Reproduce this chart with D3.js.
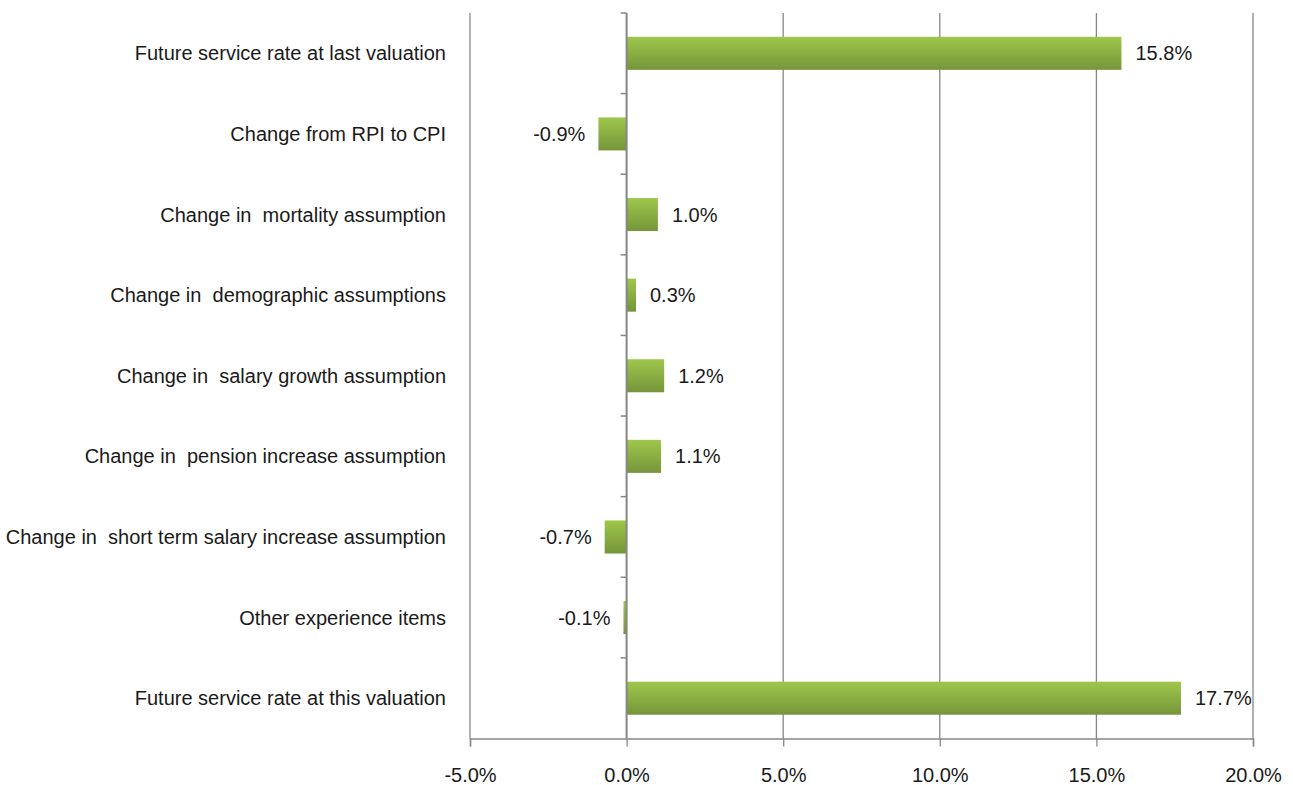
<!DOCTYPE html>
<html>
<head>
<meta charset="utf-8">
<script src="https://cdn.jsdelivr.net/npm/d3@7"></script>
<style>
    body { margin: 0; background: #fff; }
    svg text { font-family: "Liberation Sans", Arial, sans-serif; fill: #1a1a1a; }
</style>
</head>
<body>
<div id="chart"></div>
<script>
const categories = [
    "Future service rate at last valuation",
    "Change from RPI to CPI",
    "Change in  mortality assumption",
    "Change in  demographic assumptions",
    "Change in  salary growth assumption",
    "Change in  pension increase assumption",
    "Change in  short term salary increase assumption",
    "Other experience items",
    "Future service rate at this valuation"
];
const values = [15.8, -0.9, 1.0, 0.3, 1.2, 1.1, -0.7, -0.1, 17.7];
const xTicks = [-5, 0, 5, 10, 15, 20];

const W = 1293, H = 785;
const margin = {top: 13, right: 40, bottom: 46.5, left: 470};
const width = W - margin.left - margin.right;
const height = H - margin.top - margin.bottom;

// plain hyphen instead of d3's unicode minus
const pct = d => d3.format(".1f")(d).replace("\u2212", "-") + "%";

const svg = d3.select("#chart").append("svg")
    .attr("width", W)
    .attr("height", H);

const defs = svg.append("defs");
const grad = defs.append("linearGradient")
    .attr("id", "barGrad")
    .attr("x1", "0%").attr("y1", "0%")
    .attr("x2", "0%").attr("y2", "100%");
grad.append("stop").attr("offset", "0%").attr("stop-color", "#9ec74c");
grad.append("stop").attr("offset", "100%").attr("stop-color", "#76953a");

const g = svg.append("g").attr("transform", `translate(${margin.left},${margin.top})`);

const x = d3.scaleLinear().domain([-5, 20]).range([0, width]);
const y = d3.scaleBand().domain(categories).range([0, height])
    .paddingInner(0.59).paddingOuter(0.295);

// vertical gridlines
g.append("g")
    .selectAll("line")
    .data(xTicks.filter(d => d !== 0))
    .enter().append("line")
    .attr("x1", d => x(d)).attr("x2", d => x(d))
    .attr("y1", 0).attr("y2", height)
    .attr("stroke", "#878787")
    .attr("stroke-width", 1.3);

// x axis
const xAxis = g.append("g")
    .attr("transform", `translate(0,${height})`)
    .call(d3.axisBottom(x).tickValues(xTicks).tickSize(8).tickPadding(21)
        .tickFormat(pct));
xAxis.select(".domain").attr("stroke", "#878787").attr("stroke-width", 1.5);
xAxis.selectAll(".tick line").attr("stroke", "#878787").attr("stroke-width", 1.3);
xAxis.selectAll("text").style("font-size", "20px").style("fill", "#1a1a1a")
    .style("font-family", "'Liberation Sans', Arial, sans-serif");

// bars
g.selectAll(".bar")
    .data(values)
    .enter().append("rect")
    .attr("class", "bar")
    .attr("x", d => x(Math.min(0, d)))
    .attr("width", d => Math.abs(x(d) - x(0)))
    .attr("y", (d, i) => y(categories[i]))
    .attr("height", y.bandwidth())
    .attr("fill", "url(#barGrad)");

// vertical axis at zero with ticks at category boundaries
const zero = x(0);
g.append("line")
    .attr("x1", zero).attr("x2", zero)
    .attr("y1", 0).attr("y2", height)
    .attr("stroke", "#878787")
    .attr("stroke-width", 2);

const boundaries = d3.range(categories.length).map(i => i * y.step());
g.append("g")
    .selectAll("line")
    .data(boundaries)
    .enter().append("line")
    .attr("x1", zero - 6).attr("x2", zero)
    .attr("y1", d => d).attr("y2", d => d)
    .attr("stroke", "#878787")
    .attr("stroke-width", 1.5);

// category labels
g.append("g")
    .selectAll("text")
    .data(categories)
    .enter().append("text")
    .attr("x", -24)
    .attr("y", d => y(d) + y.bandwidth() / 2)
    .attr("dy", "0.35em")
    .attr("text-anchor", "end")
    .style("font-size", "20px")
    .style("white-space", "pre")
    .text(d => d);

// value labels
g.append("g")
    .selectAll("text")
    .data(values)
    .enter().append("text")
    .attr("x", d => d >= 0 ? x(d) + 14 : x(d) - 13)
    .attr("y", (d, i) => y(categories[i]) + y.bandwidth() / 2)
    .attr("dy", "0.35em")
    .attr("text-anchor", d => d >= 0 ? "start" : "end")
    .style("font-size", "20px")
    .text(pct);
</script>
</body>
</html>
